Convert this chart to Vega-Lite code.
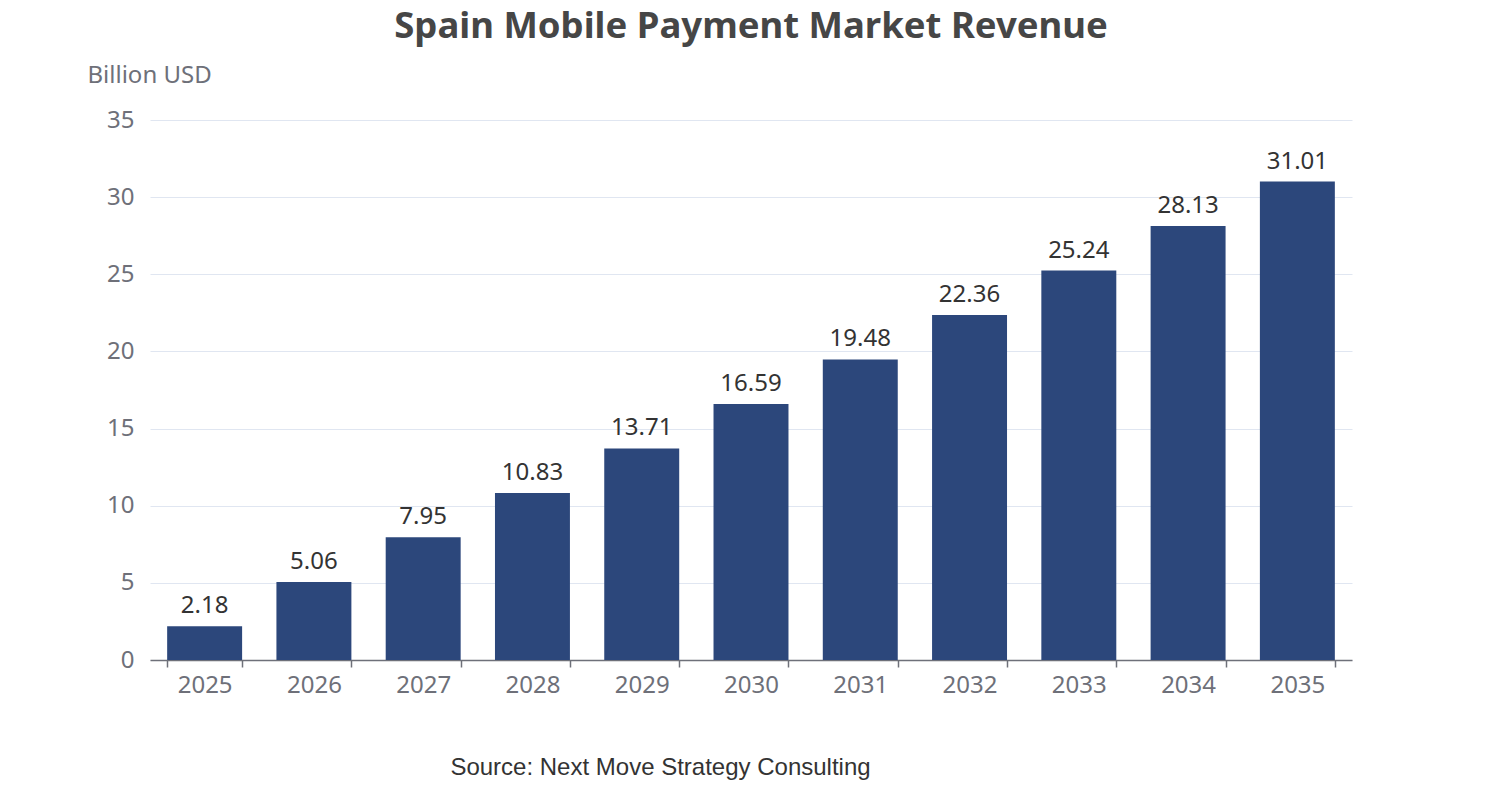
{
  "$schema": "https://vega.github.io/schema/vega-lite/v6.json",
  "width": 1202,
  "height": 540,
  "autosize": "none",
  "padding": {"left": 150, "top": 120, "right": 150, "bottom": 140},
  "background": "white",
  "title": {
    "text": "Spain Mobile Payment Market Revenue",
    "font": "Noto Sans",
    "fontSize": 36.5,
    "fontWeight": "bold",
    "color": "#464646",
    "anchor": "middle",
    "offset": 18
  },
  "data": {
    "values": [
      {"year": "2025", "value": 2.18},
      {"year": "2026", "value": 5.06},
      {"year": "2027", "value": 7.95},
      {"year": "2028", "value": 10.83},
      {"year": "2029", "value": 13.71},
      {"year": "2030", "value": 16.59},
      {"year": "2031", "value": 19.48},
      {"year": "2032", "value": 22.36},
      {"year": "2033", "value": 25.24},
      {"year": "2034", "value": 28.13},
      {"year": "2035", "value": 31.01}
    ]
  },
  "config": {
    "view": {"stroke": null},
    "font": "Noto Sans"
  },
  "encoding": {
    "x": {
      "field": "year",
      "type": "ordinal",
      "scale": {"paddingInner": 0.314, "paddingOuter": 0.157},
      "axis": {
        "title": "Source: Next Move Strategy Consulting",
        "titleFont": "Liberation Sans",
        "titleFontSize": 24,
        "titleFontWeight": "normal",
        "titleColor": "#333333",
        "titleX": 510,
        "titleY": 107,
        "titleAlign": "center",
        "titleBaseline": "middle",
        "labelAngle": 0,
        "labelFontSize": 24,
        "labelColor": "#6e7079",
        "labelPadding": 6,
        "domainColor": "#6e7079",
        "domainWidth": 1.5,
        "tickColor": "#6e7079",
        "tickWidth": 1.5,
        "tickSize": 7,
        "tickBand": "extent",
        "grid": false
      }
    },
    "y": {
      "field": "value",
      "type": "quantitative",
      "scale": {"domain": [0, 35], "nice": false},
      "axis": {
        "values": [0, 5, 10, 15, 20, 25, 30, 35],
        "title": "Billion USD",
        "titleAngle": 0,
        "titleAlign": "left",
        "titleBaseline": "middle",
        "titleX": -63,
        "titleY": -45,
        "titleFontSize": 24,
        "titleFontWeight": "normal",
        "titleColor": "#6e7079",
        "labelFontSize": 24,
        "labelColor": "#6e7079",
        "labelPadding": 16,
        "domain": false,
        "ticks": false,
        "gridColor": "#e0e6f1",
        "gridWidth": 1
      }
    }
  },
  "layer": [
    {"mark": {"type": "bar", "color": "#2c477b"}},
    {
      "mark": {"type": "text", "baseline": "alphabetic", "dy": -13, "fontSize": 24, "color": "#333333"},
      "encoding": {"text": {"field": "value", "type": "quantitative", "format": ".2f"}}
    }
  ]
}
